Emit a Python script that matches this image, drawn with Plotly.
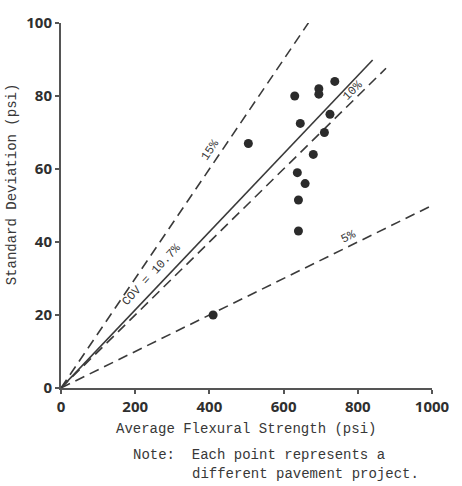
import math
import plotly.graph_objects as go

# Each point is one pavement project: average flexural strength vs standard deviation (psi)
avg_strength = [410, 505, 630, 637, 640, 640, 645, 658, 680, 695, 695, 710, 725, 738]
std_dev = [20, 67, 80, 59, 51.5, 43, 72.5, 56, 64, 82, 80.5, 70, 75, 84]

# Coefficient-of-variation reference lines (std dev = cov * mean)
cov_values = [0.15, 0.107, 0.10, 0.05]
cov_x_end = [667, 840, 876, 1000]
cov_dash = ["10px,6px", "solid", "10px,6px", "10px,6px"]
cov_labels = ["15%", "COV = 10.7%", "10%", "5%"]
cov_label_x = [425, 268, 800, 785]
cov_label_gap = [10, 12, 7, 9]

x_ticks = [0, 200, 400, 600, 800, 1000]
y_ticks = [0, 20, 40, 60, 80, 100]

mono = "Liberation Mono, DejaVu Sans Mono, monospace"
line_col = "#3a3a3a"
text_col = "#383838"

W, H = 462, 486
L, R, T, B = 61, 28, 14, 98
pw, ph = W - L - R, H - T - B

fig = go.Figure()

for cov, xe, dash in zip(cov_values, cov_x_end, cov_dash):
    fig.add_trace(go.Scatter(
        x=[0, xe], y=[0, cov * xe], mode="lines",
        line=dict(color=line_col, width=1.6, dash=dash),
        hoverinfo="skip", showlegend=False,
    ))

fig.add_trace(go.Scatter(
    x=avg_strength, y=std_dev, mode="markers",
    marker=dict(color="#2b2b2b", size=9, line=dict(width=0)),
    showlegend=False,
))

# Rotate each line label to follow its line on screen
px_per_x = pw / 1000
px_per_y = ph / 100
for cov, lab, lx, gap in zip(cov_values, cov_labels, cov_label_x, cov_label_gap):
    ang = math.degrees(math.atan(cov * px_per_y / px_per_x))
    fig.add_annotation(
        x=lx, y=cov * lx, xref="x", yref="y", text=lab, showarrow=False,
        textangle=-ang,
        xshift=-gap * math.sin(math.radians(ang)),
        yshift=gap * math.cos(math.radians(ang)),
        font=dict(family=mono, size=12, color=text_col),
    )


def page_text(px, py, text, angle=0, anchor="center"):
    fig.add_annotation(
        x=(px - L) / pw, y=(H - B - py) / ph, xref="paper", yref="paper",
        text=text, showarrow=False, textangle=angle,
        xanchor=anchor, yanchor="middle",
        font=dict(family=mono, size=14, color=text_col),
    )


page_text(12, 179, "Standard Deviation (psi)", angle=-90)
page_text(247, 430, "Average Flexural Strength (psi)")
page_text(131, 457, "Note:  Each point represents a", anchor="left")
page_text(191, 476, "different pavement project.", anchor="left")

tickfont = dict(family="Open Sans, Lato, sans-serif", size=15, color="#2f2f2f", weight=700)

fig.update_xaxes(
    range=[0, 1000], tickvals=x_ticks, ticktext=[str(v) for v in x_ticks],
    showgrid=False, zeroline=False, showline=True, linecolor="#555", linewidth=2,
    ticks="outside", ticklen=4, tickcolor="#555", tickwidth=1.5, tickfont=tickfont,
)
fig.update_yaxes(
    range=[0, 100], tickvals=y_ticks, ticktext=[str(v) for v in y_ticks],
    showgrid=False, zeroline=False, showline=True, linecolor="#555", linewidth=2,
    ticks="outside", ticklen=4, tickcolor="#555", tickwidth=1.5, tickfont=tickfont,
)

fig.update_layout(
    width=W, height=H, margin=dict(l=L, r=R, t=T, b=B),
    plot_bgcolor="white", paper_bgcolor="white",
)

fig.write_html("out.html")
